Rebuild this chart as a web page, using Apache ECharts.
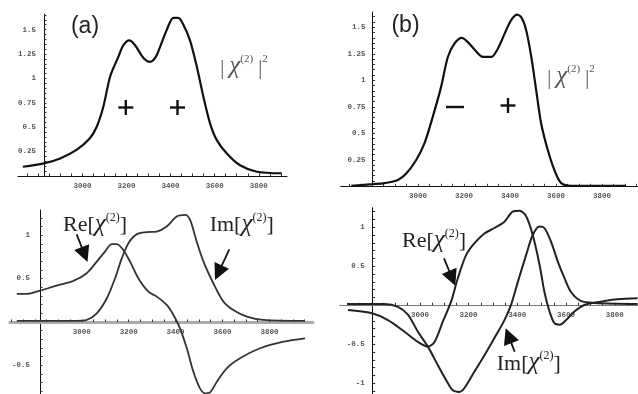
<!DOCTYPE html>
<html><head><meta charset="utf-8">
<script src="https://cdn.jsdelivr.net/npm/echarts@6/dist/echarts.min.js"></script>
<style>html,body{margin:0;padding:0;background:#fff}#c{width:638px;height:394px}</style>
</head><body><div id="c"></div>
<script>
// ---------- data ----------
const xTickLabels = [3000, 3200, 3400, 3600, 3800];
const yTopLabels = [0.25, 0.5, 0.75, 1, 1.25, 1.5];
const yBotLeftLabels = [-0.5, 0.5, 1];
const yBotRightLabels = [-1, -0.5, 0.5, 1];

// (a) |chi|^2
const aAbsX = [2730, 2826, 2899, 2975, 3035, 3065, 3095, 3126, 3163, 3186, 3213, 3239, 3277, 3307, 3330, 3352, 3383, 3413, 3435, 3458, 3488, 3519, 3549, 3579, 3609, 3655, 3715, 3791, 3904];
const aAbsY = [0.095, 0.13, 0.18, 0.27, 0.39, 0.505, 0.71, 1.02, 1.22, 1.34, 1.39, 1.34, 1.21, 1.17, 1.21, 1.32, 1.50, 1.62, 1.62, 1.55, 1.39, 1.12, 0.81, 0.54, 0.37, 0.23, 0.11, 0.044, 0.028];
// (b) |chi|^2
const bAbsX = [2710, 2804, 2855, 2913, 2949, 2993, 3029, 3065, 3101, 3130, 3160, 3191, 3217, 3246, 3283, 3319, 3348, 3377, 3406, 3432, 3452, 3471, 3493, 3514, 3536, 3565, 3594, 3623, 3667, 3905];
const bAbsY = [0.005, 0.02, 0.03, 0.06, 0.12, 0.25, 0.41, 0.66, 0.94, 1.22, 1.35, 1.40, 1.36, 1.29, 1.22, 1.22, 1.30, 1.44, 1.57, 1.62, 1.585, 1.47, 1.22, 0.91, 0.59, 0.34, 0.15, 0.03, 0.005, 0.005];
// (a) Re / Im
const aReX = [2723, 2765, 2822, 2893, 2964, 3021, 3064, 3099, 3128, 3149, 3177, 3206, 3241, 3284, 3320, 3362, 3391, 3419, 3448, 3476, 3504, 3526, 3547, 3576, 3618, 3675, 3760, 3860, 3952];
const aReY = [0.323, 0.323, 0.361, 0.419, 0.473, 0.562, 0.695, 0.811, 0.896, 0.896, 0.830, 0.695, 0.504, 0.349, 0.292, 0.196, 0.081, -0.073, -0.303, -0.574, -0.765, -0.822, -0.811, -0.689, -0.534, -0.419, -0.303, -0.227, -0.188];
const aImX = [2723, 2979, 3021, 3064, 3107, 3142, 3171, 3199, 3235, 3277, 3320, 3362, 3405, 3441, 3462, 3490, 3519, 3561, 3604, 3646, 3704, 3774, 3952];
const aImY = [0.012, 0.012, 0.023, 0.10, 0.273, 0.504, 0.735, 0.908, 1.012, 1.035, 1.042, 1.10, 1.215, 1.234, 1.176, 0.926, 0.695, 0.446, 0.234, 0.138, 0.061, 0.023, 0.012];
// (b) Re / Im
const bReX = [2705, 2800, 2869, 2937, 2992, 3033, 3060, 3094, 3128, 3156, 3190, 3224, 3265, 3306, 3347, 3381, 3409, 3436, 3463, 3491, 3511, 3532, 3552, 3573, 3600, 3634, 3675, 3743, 3811, 3893];
const bReY = [-0.06, -0.10, -0.19, -0.34, -0.47, -0.53, -0.47, -0.21, 0.046, 0.35, 0.645, 0.795, 0.92, 0.99, 1.07, 1.2, 1.21, 1.14, 0.90, 0.52, 0.17, -0.08, -0.23, -0.25, -0.19, -0.08, 0.004, 0.046, 0.077, 0.09];
const bImX = [2705, 2855, 2910, 2951, 2992, 3033, 3074, 3108, 3135, 3163, 3183, 3224, 3265, 3306, 3347, 3374, 3402, 3436, 3463, 3491, 3511, 3538, 3566, 3593, 3620, 3661, 3716, 3893];
const bImY = [0.017, 0.017, -0.02, -0.12, -0.34, -0.53, -0.77, -0.96, -1.09, -1.11, -1.06, -0.85, -0.64, -0.42, -0.19, 0.004, 0.30, 0.645, 0.90, 1.01, 0.99, 0.815, 0.56, 0.35, 0.17, 0.055, 0.03, 0.017];

// ---------- helpers ----------
const zip = (xs, ys) => xs.map((x, i) => [x, ys[i]]);
function steps(min, max, step) {
  const out = [];
  const start = Math.ceil(min / step - 1e-9);
  for (let k = start; k * step <= max + 1e-9; k++) out.push(Math.round(k * step * 1000) / 1000);
  return out.filter(v => Math.abs(v) > 1e-9);
}
const tickFont = { fontFamily: 'Liberation Mono', fontSize: 7.5, fontWeight: 'bold', color: '#555', formatter: v => String(v) };

function xAx(gi, min, max, line) {
  return {
    type: 'value', gridIndex: gi, min: min, max: max, position: 'bottom', offset: 0,
    axisLine: { onZero: false, lineStyle: line },
    axisTick: { show: true, inside: true, length: 2.5, customValues: steps(min, max, 50), lineStyle: { color: '#333', width: 1 } },
    axisLabel: Object.assign({ customValues: xTickLabels, margin: 6 }, tickFont),
    splitLine: { show: false }
  };
}
function yAx(gi, min, max, labels, minorStep, offset, margin) {
  return {
    type: 'value', gridIndex: gi, min: min, max: max, position: 'left', offset: offset,
    axisLine: { show: true, onZero: false, lineStyle: { color: '#111', width: 1 } },
    axisTick: { show: true, inside: true, length: 2.5, customValues: steps(min, max, minorStep), lineStyle: { color: '#333', width: 1 } },
    axisLabel: Object.assign({ customValues: labels, margin: margin }, tickFont),
    splitLine: { show: false }
  };
}
function line(xi, xs, ys, color, width) {
  return { type: 'line', xAxisIndex: xi, yAxisIndex: xi, data: zip(xs, ys), showSymbol: false, smooth: 0.3,
    lineStyle: { color: color, width: width }, silent: true };
}
function arrow(x1, y1, x2, y2) {
  const dx = x2 - x1, dy = y2 - y1, L = Math.hypot(dx, dy), ux = dx / L, uy = dy / L;
  const hl = 16, hw = 8;
  const bx = x2 - ux * hl, by = y2 - uy * hl;
  return [
    { type: 'line', shape: { x1: x1, y1: y1, x2: bx + ux * 2, y2: by + uy * 2 }, style: { stroke: '#111', lineWidth: 1.8 } },
    { type: 'polygon', shape: { points: [[x2, y2], [bx - uy * hw, by + ux * hw], [bx + uy * hw, by - ux * hw]] }, style: { fill: '#111' } }
  ];
}
const serif = 'Liberation Serif';
function chiText(cx, cy, pre, post, size) {
  return {
    type: 'text', x: cx, y: cy,
    style: {
      text: '{n|' + pre + '}{i|χ}{s|(2)}{n|' + post + '}',
      align: 'center', verticalAlign: 'middle', textAlign: 'center', textVerticalAlign: 'middle',
      rich: {
        n: { fontFamily: serif, fontSize: size, fill: '#222', verticalAlign: 'bottom' },
        i: { fontFamily: serif, fontSize: size + 3, fontStyle: 'italic', fill: '#222', verticalAlign: 'bottom' },
        s: { fontFamily: serif, fontSize: Math.round(size * 0.55), fill: '#222', verticalAlign: 'top' }
      }
    }
  };
}
function absText(cx, cy) {
  return {
    type: 'text', x: cx, y: cy,
    style: {
      text: '{n|| }{i|χ}{s|(2)}{n| |}{s|2}',
      align: 'center', verticalAlign: 'middle', textAlign: 'center', textVerticalAlign: 'middle',
      rich: {
        n: { fontFamily: serif, fontSize: 20, fill: '#555', verticalAlign: 'bottom' },
        i: { fontFamily: serif, fontSize: 25, fontStyle: 'italic', fill: '#555', verticalAlign: 'bottom' },
        s: { fontFamily: serif, fontSize: 11, fill: '#555', verticalAlign: 'top' }
      }
    }
  };
}
function plus(cx, cy) {
  return [
    { type: 'line', shape: { x1: cx - 7.5, y1: cy, x2: cx + 7.5, y2: cy }, style: { stroke: '#111', lineWidth: 2.4 } },
    { type: 'line', shape: { x1: cx, y1: cy - 7.5, x2: cx, y2: cy + 7.5 }, style: { stroke: '#111', lineWidth: 2.4 } }
  ];
}
function minus(cx, cy) {
  return [{ type: 'line', shape: { x1: cx - 9, y1: cy, x2: cx + 9, y2: cy }, style: { stroke: '#111', lineWidth: 2.4 } }];
}
function label(t, cx, cy) {
  return { type: 'text', x: cx, y: cy, style: { text: t, fontFamily: 'Liberation Sans', fontSize: 23, fill: '#222',
    align: 'center', verticalAlign: 'middle', textAlign: 'center', textVerticalAlign: 'middle' } };
}

const blackAxis = { color: '#111', width: 1 };
const grids = [
  { left: 18, top: 14, width: 269, height: 162, outerBoundsMode: 'none', containLabel: false },
  { left: 340.7, top: 12, width: 297.3, height: 174.3, outerBoundsMode: 'none', containLabel: false },
  { left: 10, top: 210, width: 303, height: 184, outerBoundsMode: 'none', containLabel: false },
  { left: 339.7, top: 207.7, width: 298.3, height: 186.3, outerBoundsMode: 'none', containLabel: false }
];
const option = {
  animation: false,
  backgroundColor: '#fff',
  grid: grids,
  xAxis: [
    xAx(0, 2708, 3928, blackAxis),
    xAx(1, 2664, 3957, blackAxis),
    xAx(2, 2694, 3986, { color: '#aaa', width: 3 }),
    xAx(3, 2671, 3895, { color: '#777', width: 1.2 })
  ],
  yAxis: [
    yAx(0, 0, 1.66, yTopLabels, 0.05, -26, 8),
    yAx(1, 0, 1.644, yTopLabels, 0.05, -31.8, 7),
    yAx(2, -0.83, 1.29, yBotLeftLabels, 0.1, -30, 10),
    yAx(3, -1.137, 1.25, yBotRightLabels, 0.1, -33, 8)
  ],
  series: [
    line(0, aAbsX, aAbsY, '#111', 2.2),
    line(1, bAbsX, bAbsY, '#111', 2.2),
    line(2, aReX, aReY, '#333', 1.8),
    line(2, aImX, aImY, '#333', 1.8),
    line(3, bReX, bReY, '#222', 2),
    line(3, bImX, bImY, '#222', 2)
  ],
  graphic: [].concat(
    [label('(a)', 85, 27), label('(b)', 405.5, 26)],
    [absText(244, 66), absText(571, 76)],
    plus(125.8, 107.5), plus(177.5, 107.5), minus(455, 107), plus(508, 105.5),
    [chiText(95, 224, 'Re[', ']', 22), chiText(241.7, 224, 'Im[', ']', 22),
     chiText(434, 240, 'Re[', ']', 22), chiText(528.8, 362.5, 'Im[', ']', 22)],
    arrow(76.7, 234.3, 87.5, 262), arrow(229.3, 249.3, 215, 280),
    arrow(444, 258.3, 455.3, 285.7), arrow(514.7, 351.7, 505.7, 328.3)
  )
};
const chart = echarts.init(document.getElementById('c'), null, { renderer: 'canvas' });
chart.setOption(option);
// move each x axis (line, ticks and labels) onto y = 0, using the library's own scale
const xUpdates = option.xAxis.map((ax, i) => {
  const y0 = chart.convertToPixel({ xAxisIndex: i, yAxisIndex: i }, [ax.min, 0])[1];
  const bottom = grids[i].top + grids[i].height;
  return { offset: -(bottom - y0) };
});
chart.setOption({ xAxis: xUpdates });
</script>
</body></html>
